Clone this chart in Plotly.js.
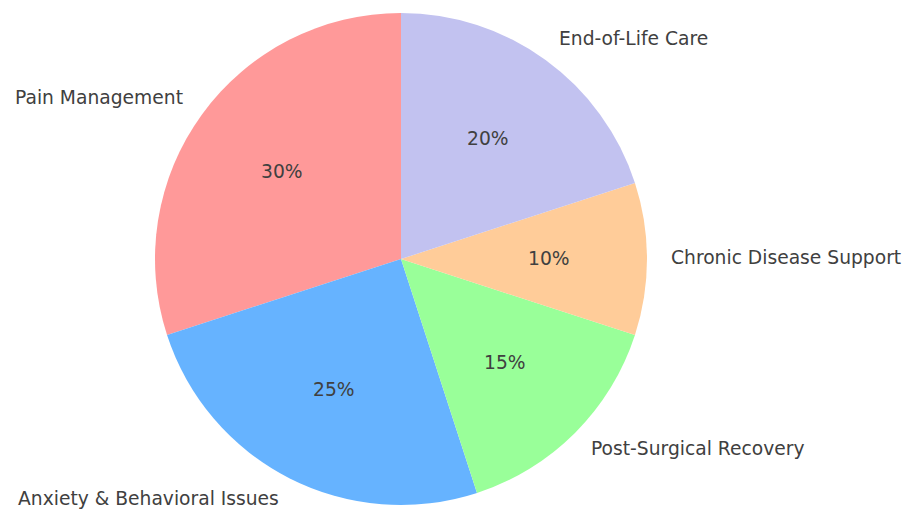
<!DOCTYPE html>
<html>
<head>
<meta charset="utf-8">
<script src="https://cdn.plot.ly/plotly-3.0.1.min.js"></script>
<style>html,body{margin:0;padding:0;background:#fff;}#chart{width:905px;height:509px;}</style>
</head>
<body>
<div id="chart"></div>
<script>
const categories = ["Pain Management", "Anxiety & Behavioral Issues", "Post-Surgical Recovery", "Chronic Disease Support", "End-of-Life Care"];
const values = [30, 25, 15, 10, 20];
const colors = ["#ff9999", "#66b3ff", "#99ff99", "#ffcc99", "#c2c2f0"];

const W = 905, H = 509;
const cx = 401, cy = 259, R = 246;
const fontFam = "DejaVu Sans, sans-serif";
const textColor = "#404040";
const fs = 18.7;

const total = values.reduce((a, b) => a + b, 0);
const annotations = [];
let cum = 0;
values.forEach((v, i) => {
  const mid = (90 + 360 * (cum + v / 2) / total) * Math.PI / 180;
  cum += v;
  const c = Math.cos(mid), s = Math.sin(mid);
  const lx = cx + 1.1 * R * c, ly = cy - 1.1 * R * s;
  annotations.push({
    x: lx / W, y: 1 - ly / H, xref: "paper", yref: "paper",
    text: categories[i], showarrow: false,
    xanchor: c > 0 ? "left" : "right", yanchor: "middle",
    xshift: c > 0 ? -3 : 3, yshift: 2,
    font: {family: fontFam, size: fs, color: textColor}
  });
  const px = cx + 0.6 * R * c, py = cy - 0.6 * R * s;
  annotations.push({
    x: px / W, y: 1 - py / H, xref: "paper", yref: "paper",
    text: Math.round(100 * v / total) + "%", showarrow: false,
    xanchor: "center", yanchor: "middle", yshift: 1,
    font: {family: fontFam, size: fs, color: textColor}
  });
});

const trace = {
  type: "pie",
  labels: categories,
  values: values,
  sort: false,
  direction: "counterclockwise",
  rotation: -360 * values[0] / total,
  textinfo: "none",
  hoverinfo: "label+percent",
  marker: {colors: colors, line: {width: 0}},
  domain: {x: [(cx - R) / W, (cx + R) / W], y: [1 - (cy + R) / H, 1 - (cy - R) / H]},
  showlegend: false
};

Plotly.newPlot("chart", [trace], {
  width: W, height: H,
  margin: {l: 0, r: 0, t: 0, b: 0},
  paper_bgcolor: "#ffffff",
  showlegend: false,
  annotations: annotations
}, {displayModeBar: false, staticPlot: true});
</script>
</body>
</html>
